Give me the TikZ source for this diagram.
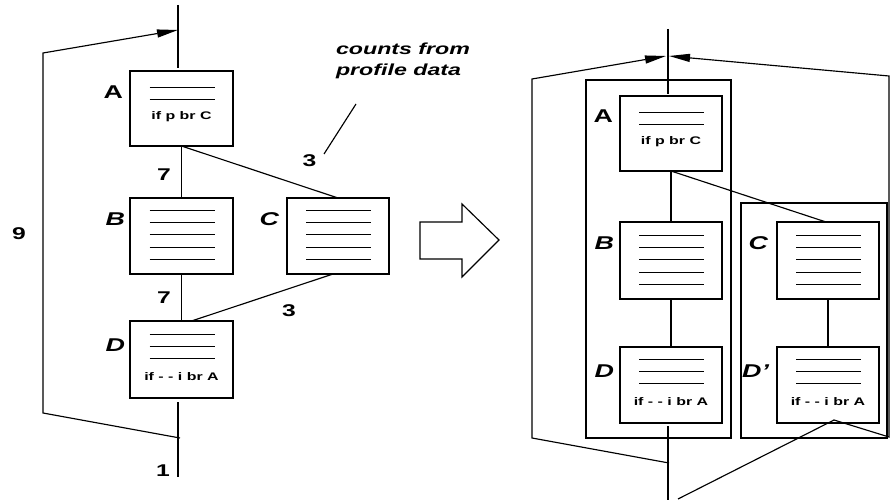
\documentclass[tikz,border=0pt]{standalone}
\usepackage{fontspec}
\setmainfont{Liberation Sans}[FakeStretch=1.45]
\usetikzlibrary{arrows.meta}

% horizontal "code" strokes inside a block
\newcommand{\codelines}[3]{%
  \foreach \k in {1,...,#3}
    \draw [codeline] ([xshift=-32pt,yshift={-#2pt-12.4pt*(\k-1)}]#1.north) -- ++(65,0);}

\begin{document}
\begin{tikzpicture}[x=1pt,y=-1pt,line width=1.15pt,every node/.style={outer sep=0pt,inner sep=0pt}]

\tikzstyle{blk}=[draw,line width=1.15pt,minimum width=102pt,minimum height=76pt]
\tikzstyle{codeline}=[line width=0.9pt]
\tikzstyle{code}=[font=\fontsize{11}{13}\selectfont\bfseries]
\tikzstyle{lbl}=[anchor=east,font=\fontsize{18.5}{21}\selectfont\bfseries]
\tikzstyle{ilbl}=[anchor=east,font=\fontsize{18.5}{21}\selectfont\bfseries\itshape]
\tikzstyle{cnt}=[font=\fontsize{17}{20}\selectfont\bfseries]
\tikzstyle{back}=[-{Triangle[length=21pt,width=8pt]}]

\useasboundingbox (0,0) rectangle (891,503);

% original flow graph
\begin{scope}[]
\node (A) [blk, minimum width=103pt, minimum height=75pt] at (181.5,108.5) {};
\node (B) [blk, minimum width=103pt] at (181.5,236) {};
\node (C) [blk] at (338,236) {};
\node (D) [blk, minimum width=103pt, minimum height=77pt] at (181.5,359.5) {};

\codelines{A}{16}{2}
\node [code] at ([yshift=-46pt]A.north) {if p br C};
\codelines{B}{12}{5}
\codelines{C}{12}{5}
\codelines{D}{13}{3}
\node [code] at ([yshift=-56pt]D.north) {if - - i br A};

\node [lbl] at ([xshift=-7pt,yshift=-21pt]A.north west) {A};
\node [ilbl] at ([xshift=-5pt,yshift=-21pt]B.north west) {B};
\node [ilbl] at ([xshift=-8pt,yshift=-21pt]C.north west) {C};
\node [ilbl] at ([xshift=-5pt,yshift=-24.5pt]D.north west) {D};

\coordinate (topL) at (178,5);
\coordinate (arrL) at (178,30);
\coordinate (loopL1) at (43,53);
\coordinate (loopL2) at (43,413);
\coordinate (exitL) at (180,438);
\coordinate (botL) at (178,477);

\draw [shorten >=3pt] (topL) -- (topL |- A.north);
\draw (A) -- (B);
\draw (B) -- (D);
\draw (A.south) -- (C.north);
\draw ([xshift=-5pt]C.south) -- ([xshift=10pt]D.north);
\draw [shorten <=4pt] (botL |- D.south) -- (botL);
\draw [back] (exitL) -- (loopL2) -- (loopL1) -- (arrL);

\node [cnt] at (164,175) {7};
\node [cnt] at (164,297.5) {7};
\node [cnt] at (19,234) {9};
\node [cnt] at (309.5,161) {3};
\node [cnt] at (289,311) {3};
\node [cnt] at (163,471) {1};

\coordinate (noteA) at (356,104);
\coordinate (noteB) at (324,154);
\draw (noteA) -- (noteB);
\node (note) [anchor=west, align=left, font=\fontsize{16}{21}\selectfont\bfseries\itshape] at (336,60.5) {counts from\\profile data};
\end{scope}

% transformation arrow
\draw (420,222) -- (462,222) -- (462,204) -- (499,240) -- (462,277) -- (462,259) -- (420,259) -- cycle;

% traces after tail duplication
\begin{scope}[]
\draw (586,80) rectangle (731,438);
\draw (741,203) rectangle (887,438);

\node (A2) [blk, minimum height=75pt] at (671,133.5) {};
\node (B2) [blk, minimum height=77pt] at (671,260.5) {};
\node (D2) [blk] at (671,385) {};
\node (C2) [blk, minimum height=77pt] at (828,260.5) {};
\node (D2p) [blk] at (828,385) {};

\codelines{A2}{16}{2}
\node [code] at ([yshift=-46pt]A2.north) {if p br C};
\codelines{B2}{13}{5}
\codelines{C2}{13}{5}
\codelines{D2}{12}{3}
\node [code] at ([yshift=-55pt]D2.north) {if - - i br A};
\codelines{D2p}{12}{3}
\node [code] at ([yshift=-55pt]D2p.north) {if - - i br A};

\node [lbl] at ([xshift=-7pt,yshift=-20.5pt]A2.north west) {A};
\node [ilbl] at ([xshift=-6pt,yshift=-21pt]B2.north west) {B};
\node [ilbl] at ([xshift=-9pt,yshift=-21pt]C2.north west) {C};
\node [ilbl] at ([xshift=-6pt,yshift=-24pt]D2.north west) {D};
\node [ilbl] at ([xshift=-8pt,yshift=-24pt]D2p.north west) {D'};

\coordinate (topR) at (668,29);
\coordinate (arrRl) at (666,56);
\coordinate (arrRr) at (669,56);
\coordinate (loopRl1) at (532,79);
\coordinate (loopRl2) at (532,438);
\coordinate (exitR) at (669,463);
\coordinate (loopRr1) at (889,76);
\coordinate (loopRr2) at (889,437);
\coordinate (splitR) at ([xshift=6pt,yshift=3pt]D2p.south);
\coordinate (botR) at (668,500);
\coordinate (joinR) at (678,499);

\draw [shorten >=2pt] (topR) -- (topR |- A2.north);
\draw (A2) -- (B2);
\draw (B2) -- (D2);
\draw (A2.south) -- ([xshift=-2pt]C2.north);
\draw (C2) -- (D2p);
\draw [shorten <=3pt] (botR |- D2.south) -- (botR);
\draw [back] (exitR) -- (loopRl2) -- (loopRl1) -- (arrRl);
\draw [back] (splitR) -- (loopRr2) -- (loopRr1) -- (arrRr);
\draw (splitR) -- (joinR);
\end{scope}

\end{tikzpicture}
\end{document}
